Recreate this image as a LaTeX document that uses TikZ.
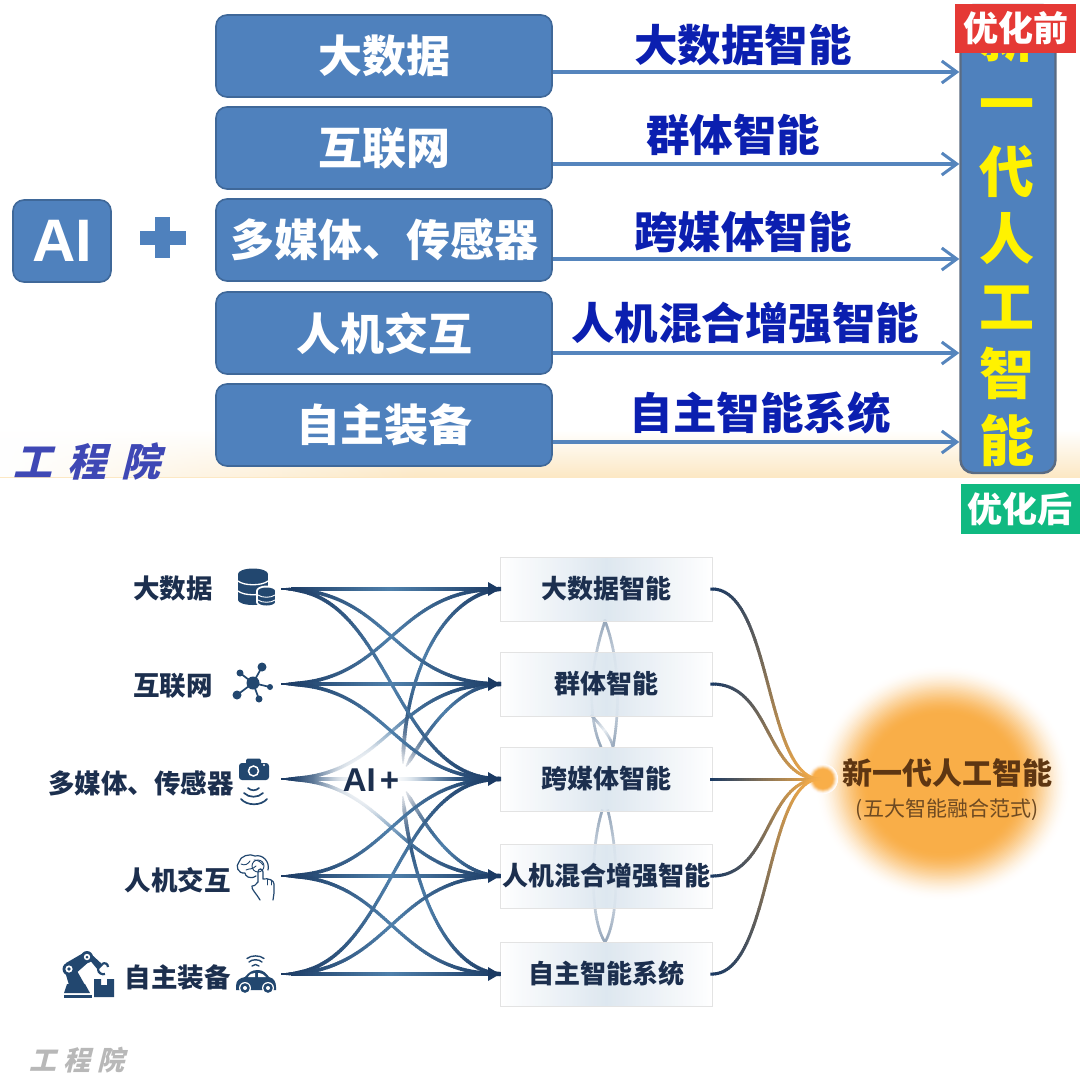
\documentclass[tikz,border=0pt]{standalone}
\usepackage{fontspec}
\setmainfont{Noto Sans CJK SC}
\newfontfamily\latinbold{Liberation Sans}
\usetikzlibrary{arrows.meta,calc,decorations.markings,fadings,shadings}
\definecolor{navy}{HTML}{1B3A63}
\definecolor{steel}{HTML}{4F80AB}
\definecolor{inkt}{HTML}{1C2F4E}
\definecolor{icon}{HTML}{22476F}
\definecolor{boxblue}{HTML}{4F81BD}
\definecolor{boxedge}{HTML}{3F6899}
\definecolor{coledge}{HTML}{5A6B82}
\definecolor{arrblue}{HTML}{5585BD}
\definecolor{lblblue}{HTML}{0B1FB0}
\definecolor{orng}{HTML}{F9AE48}
\definecolor{paleA}{HTML}{95A6BA}
\definecolor{paleB}{HTML}{E9EEF3}
\definecolor{brownA}{HTML}{5E3612}
\definecolor{brownB}{HTML}{6E4A22}
\definecolor{cream}{HTML}{FCE8C4}
\definecolor{boxmid}{HTML}{D9E4EE}
\definecolor{tagred}{HTML}{E53935}
\definecolor{taggreen}{HTML}{10B981}
\definecolor{wmblue}{HTML}{3F48B5}
\tikzfading[name=softdisc,inner color=transparent!0,outer color=transparent!100]
\tikzfading[name=leftwhite,left color=transparent!0,right color=transparent!100]
\newcommand\flowmark{%
  \pgfmathsetmacro\pp{\pgfkeysvalueof{/pgf/decoration/mark info/distance from start}/\pgfdecoratedpathlength}%
  \pgfmathsetmacro\mm{\flowfn}%
  \pgfmathsetmacro\ww{\flowwd}%
  \colorlet{fc}{\colB!\mm!\colA}%
  \draw[fc,line width=\ww pt,line cap=butt] (-1.6pt,0pt)--(1.6pt,0pt);}
\tikzset{
  x=1pt,y=-1pt,
  flowbase/.style={decoration={markings,mark=between positions 0 and 1 step 2.4pt with {\flowmark}},postaction={decorate}},
  flowsym/.style={/utils/exec={\def\colA{navy}\def\colB{steel}\def\flowfn{100*(1-abs(2*\pp-1))}\def\flowwd{(3.1+1.0*(2*\pp-1)^2)*min(1,0.35+\pp*12)}},flowbase},
  flowout/.style={/utils/exec={\def\colA{navy}\def\colB{orng}\def\flowfn{100*\pp}\def\flowwd{3}},flowbase},
  flowpale/.style={/utils/exec={\def\colA{paleA}\def\colB{paleB}\def\flowfn{100*(1-abs(2*\pp-1))}\def\flowwd{2.6}},flowbase},
  oldbox/.style={draw=boxedge,line width=1.6pt,fill=boxblue,rounded corners=11pt,text=white,inner sep=0pt,font=\fontsize{44}{46}\bfseries\selectfont},
  oldlabel/.style={text=lblblue,inner sep=0pt,font=\fontsize{43.5}{46}\bfseries\selectfont},
  oldarrow/.style={draw=arrblue,line width=3.4pt,-{Straight Barb[length=15pt,width=22pt,line width=3pt]}},
  yel/.style={text=yellow,inner sep=0pt,anchor=base,font=\fontsize{55}{58}\bfseries\selectfont},
  srctxt/.style={text=inkt,inner sep=0pt,font=\fontsize{26.5}{30}\bfseries\selectfont},
  tgtbox/.style={draw=black!11,line width=0.9pt,left color=white,right color=white,middle color=boxmid,fill opacity=.88,text opacity=1,
     minimum width=212pt,minimum height=64pt,inner sep=0pt,outer sep=0pt,text=inkt,font=\fontsize{26}{30}\bfseries\selectfont},
  tagbox/.style={text=white,inner sep=0pt,font=\fontsize{35}{38}\bfseries\selectfont},
  ic/.style={fill=icon,draw=none},
  icl/.style={draw=icon,line width=1.2pt,line cap=round,line join=round,fill=none},
  wmark/.style={inner sep=0pt,xslant=.25,font=\fontsize{#1}{#1}\bfseries\selectfont},
}
\newcommand\flowcurve[3]{\path[#1] (#2) .. controls ($(#2)+(108,0)$) and ($(#3)+(-108,0)$) .. (#3);}
\newcommand\outcurve[2]{\path[flowout] (#1) .. controls ($(#1)+(60,0)$) and ($(#2)+(-55,0)$) .. (#2);}
\newcommand\softblob[5]{% cx cy rx ry plateau
  \foreach \k in {0,...,36}{%
    \pgfmathsetmacro\f{1-\k/36*(1-#5)}%
    \pgfmathsetmacro\q{\k/36}%
    \pgfmathsetmacro\pc{100*\q*\q*(3-2*\q)}%
    \fill[orng!\pc!white] (#1,#2) ellipse [x radius={#3*\f},y radius={#4*\f}];}}
\begin{document}
\begin{tikzpicture}
\useasboundingbox (0,0) rectangle (1080,1080);
\fill[white] (0,0) rectangle (1080,1080);
% --- top panel background
\shade[top color=white,bottom color=cream] (0,430) rectangle (1080,477);
\fill[white,path fading=leftwhite] (0,430) rectangle (420,477);
% --- top panel nodes
\node[oldbox,minimum width=98pt,minimum height=82pt] (ai) at (62,241) {\latinbold\fontsize{60}{62}\bfseries\selectfont AI};
\fill[boxblue] (155,217) rectangle (170,258);
\fill[boxblue] (140,231) rectangle (186,245);
\node[oldbox,minimum width=336pt,minimum height=82pt] (a1) at (384,56) {大数据};
\node[oldbox,minimum width=336pt,minimum height=82pt] (a2) at (384,148) {互联网};
\node[oldbox,minimum width=336pt,minimum height=82pt] (a3) at (384,240) {多媒体、传感器};
\node[oldbox,minimum width=336pt,minimum height=82pt] (a4) at (384,333) {人机交互};
\node[oldbox,minimum width=336pt,minimum height=82pt] (a5) at (384,425) {自主装备};
\node[draw=coledge,line width=2.4pt,fill=boxblue,rounded corners=13pt,minimum width=95pt,minimum height=468pt,inner sep=0pt] (col) at (1008,239) {};
\foreach \ty/\tc in {57/新,124/一,192/代,259/人,327/工,394/智,461/能}{\node[yel] at (1007,\ty) {\tc};}
\draw[oldarrow] (a1.east|-0,72) -- (col.west|-0,72);
\draw[oldarrow] (a2.east|-0,164) -- (col.west|-0,164);
\draw[oldarrow] (a3.east|-0,259) -- (col.west|-0,259);
\draw[oldarrow] (a4.east|-0,353) -- (col.west|-0,353);
\draw[oldarrow] (a5.east|-0,442) -- (col.west|-0,442);
\node[oldlabel] at (743,45) {大数据智能};
\node[oldlabel] at (733,135) {群体智能};
\node[oldlabel] at (743,232) {跨媒体智能};
\node[oldlabel] at (745,323) {人机混合增强智能};
\node[oldlabel] at (760,413) {自主智能系统};
\node[wmark=39,text=wmblue] at (91,461) {工\hspace{15pt}程\hspace{15pt}院};
% --- tags
\fill[tagred] (955,4) rectangle (1076,53);
\node[tagbox] at (1015.5,28) {优化前};
\fill[taggreen] (961,484) rectangle (1080,534);
\node[tagbox] at (1020,509) {优化后};
% --- lower panel: glow
\softblob{943}{783}{128}{118}{.58}
\softblob{823}{779}{15}{15}{.6}
% --- lens-shaped pale links behind the boxes
\coordinate (t1b) at (605,621); \coordinate (t3a) at (601,747); \coordinate (t3b) at (613,747);
\coordinate (t2b) at (592,716); \coordinate (t3c) at (602,811); \coordinate (t3d) at (608,811); \coordinate (t5a) at (605,942);
\path[flowpale] (t1b) .. controls (592,660) and (585,710) .. (t3a);
\path[flowpale] (t1b) .. controls (620,660) and (620,710) .. (t3b);
\path[flowpale] (t2b) .. controls (600,725) and (610,735) .. (t3b);
\path[flowpale] (t3c) .. controls (590,850) and (590,920) .. (t5a);
\path[flowpale] (t3d) .. controls (620,860) and (618,920) .. (t5a);
% --- intelligence boxes
\node[tgtbox] (t1) at (606,589) {\raisebox{-2pt}{大数据智能}};
\node[tgtbox] (t2) at (606,684) {\raisebox{-2pt}{群体智能}};
\node[tgtbox] (t3) at (606,779) {\raisebox{-2pt}{跨媒体智能}};
\node[tgtbox] (t4) at (606,876) {\raisebox{-3pt}{人机混合增强智能}};
\node[tgtbox] (t5) at (606,974) {\raisebox{-3pt}{自主智能系统}};
% --- source anchors and labels
\coordinate (s1) at (283,589); \coordinate (s2) at (283,684); \coordinate (s3) at (283,779); \coordinate (s4) at (283,876); \coordinate (s5) at (283,974);
\node[srctxt,anchor=east] (l1) at (213,588) {大数据};
\node[srctxt,anchor=east] (l2) at (213,686) {互联网};
\node[srctxt,anchor=east] (l3) at (234,783) {多媒体、传感器};
\node[srctxt,anchor=east] (l4) at (231,880) {人机交互};
\node[srctxt,anchor=east] (l5) at (231,977) {自主装备};
% --- flows from the AI+ hub source (fade under the white glow)
\flowcurve{flowsym}{s3}{t2.west}
\flowcurve{flowsym}{s3}{t4.west}
\flowcurve{flowsym}{s3}{t3.west}
\coordinate (u1) at (403,762); \coordinate (u2) at (407,765); \coordinate (d1) at (403,798); \coordinate (d2) at (407,793);
\path[flowsym] (u1) .. controls (405,670) and (445,595) .. (t1.west);
\path[flowsym] (u2) .. controls (425,735) and (455,685) .. (t2.west);
\path[flowsym] (d1) .. controls (410,870) and (440,970) .. (t5.west);
\path[flowsym] (d2) .. controls (425,825) and (455,875) .. (t4.west);
\fill[white,path fading=softdisc] (375,779) ellipse [x radius=82,y radius=72];
\fill[white,path fading=softdisc] (375,779) ellipse [x radius=62,y radius=52];
\fill[white,path fading=softdisc] (375,779) ellipse [x radius=48,y radius=38];
\flowcurve{flowsym}{s1}{t1.west}
\flowcurve{flowsym}{s1}{t2.west}
\flowcurve{flowsym}{s1}{t3.west}
\flowcurve{flowsym}{s2}{t1.west}
\flowcurve{flowsym}{s2}{t2.west}
\flowcurve{flowsym}{s2}{t3.west}
\flowcurve{flowsym}{s4}{t3.west}
\flowcurve{flowsym}{s4}{t4.west}
\flowcurve{flowsym}{s4}{t5.west}
\flowcurve{flowsym}{s5}{t3.west}
\flowcurve{flowsym}{s5}{t4.west}
\flowcurve{flowsym}{s5}{t5.west}
\foreach \tg in {t1,t2,t3,t4,t5}{\fill[navy] (\tg.west) -- ++(-12,-7) -- ++(0,14) -- cycle;}
\node[text=inkt,inner sep=0pt,font=\latinbold\fontsize{33}{35}\bfseries\selectfont] (aiplus) at (371,780) {AI\hspace{4pt}+};
% --- outputs to the hub
\coordinate (hub) at (820,779);
\outcurve{t1.east}{hub}
\outcurve{t2.east}{hub}
\outcurve{t3.east}{hub}
\outcurve{t4.east}{hub}
\outcurve{t5.east}{hub}
\node[text=brownA,inner sep=0pt,font=\fontsize{30}{34}\bfseries\selectfont] (newai) at (947,773) {新一代人工智能};
\node[text=brownB,inner sep=0pt,font=\fontsize{21}{24}\selectfont] at (947,810) {(五大智能融合范式)};
\node[wmark=27,text=black!28] at (80,1060) {工\hspace{7pt}程\hspace{7pt}院};
% --- icon: database
\fill[ic] (238,574) rectangle (268,600);
\fill[ic] (253,574) ellipse [x radius=15,y radius=5.5];
\fill[ic] (253,600) ellipse [x radius=15,y radius=5];
\draw[white,line width=1.3pt] (238,581) .. controls (244,586) and (262,586) .. (268,581);
\draw[white,line width=1.3pt] (238,591) .. controls (244,596) and (262,596) .. (268,591);
\fill[white] (266.5,591) ellipse [x radius=10.5,y radius=5.5];
\fill[white] (256,591) rectangle (277,602);
\fill[white] (266.5,602) ellipse [x radius=10.5,y radius=5.5];
\fill[ic] (258,591) rectangle (275,602);
\fill[ic] (266.5,591) ellipse [x radius=8.5,y radius=3.5];
\fill[ic] (266.5,602) ellipse [x radius=8.5,y radius=3.5];
\draw[white,line width=.9pt] (258,595) .. controls (262,598) and (271,598) .. (275,595);
\draw[white,line width=.9pt] (258,600) .. controls (262,603) and (271,603) .. (275,600);
% --- icon: network
\foreach \nx/\ny/\nr in {262/667/4.5,240/673/3.5,270/687/3,259/699/3.5,237/695/4.5}{
  \draw[icon,line width=1.7pt] (253,683) -- (\nx,\ny);
  \fill[ic] (\nx,\ny) circle (\nr);}
\fill[ic] (253,683) circle (6.5);
% --- icon: camera and sensor waves
\fill[ic,rounded corners=3pt] (239,763) rectangle (269,780);
\fill[ic,rounded corners=1.5pt] (246,758.5) rectangle (261,766);
\draw[white,line width=1.5pt] (253.5,771) circle (5);
\fill[white] (264,765) circle (1.2);
\draw[icl,line width=1.7pt] (248,788) .. controls (251,791) and (256,791) .. (259,788);
\draw[icl,line width=1.7pt] (244,793) .. controls (249,798) and (258,798) .. (263,793);
\draw[icl,line width=1.7pt] (241,799) .. controls (247,806) and (261,806) .. (267,799);
% --- icon: brain and hand
\draw[icl] (256,876) .. controls (250,880) and (245,876) .. (245,873) .. controls (238,874) and (235,866) .. (239,862)
  .. controls (240,856) and (250,853) .. (255,856) .. controls (263,854) and (270,862) .. (268,870);
\draw[icl,line width=.9pt] (241,864) .. controls (245,866) and (248,864) .. (250,861);
\draw[icl,line width=.9pt] (246,870) .. controls (250,868) and (252,870) .. (256,866);
\draw[icl,line width=.9pt] (254,860) .. controls (258,860) and (261,862) .. (263,865);
\draw[icl,line width=.9pt] (258,866) circle (6);
\draw[icl] (258,882) -- (258,872) .. controls (258,868) and (263,868) .. (263,872) -- (263,879)
  .. controls (268,878) and (274,880) .. (274,884) -- (274,893) -- (273,900);
\draw[icl] (258,882) .. controls (255,885) and (254,887) .. (252,886) .. controls (251,889) and (256,893) .. (260,900);
\draw[icl,line width=.9pt] (267,879) -- (267,885);
\draw[icl,line width=.9pt] (271,880) -- (271,885);
% --- icon: robot arm and parcel
\fill[ic] (64,995) rectangle (92,998);
\fill[ic] (67,984) -- (85,984) -- (90,993) -- (64,993) -- cycle;
\fill[ic] (64,968) -- (72,962) -- (85,985) -- (69,985) -- cycle;
\fill[ic] (66,963) -- (85,952) -- (91,960) -- (74,975) -- cycle;
\fill[ic] (69,969) circle (6.5);
\fill[ic] (87,957) circle (6);
\fill[ic] (84,953) -- (90,953) -- (103,965) -- (98,970) -- cycle;
\fill[white] (69,969) circle (3.6); \fill[ic] (69,969) circle (1.8);
\fill[white] (87,957) circle (3.2); \fill[ic] (87,957) circle (1.5);
\draw[icon,line width=2.2pt] (102,964) .. controls (105,962) and (108,964) .. (108,967);
\draw[icon,line width=2.2pt] (98,969) .. controls (98,973) and (102,975) .. (105,974);
\fill[ic] (94,979) -- (101,979) -- (101,985) -- (107,985) -- (107,979) -- (114,979) -- (114,997) -- (94,997) -- cycle;
% --- icon: connected car
\fill[ic] (236,986) .. controls (236,980) and (240,978) .. (245,977) .. controls (249,972) and (252,970) .. (258,970)
  .. controls (263,970) and (266,973) .. (269,977) .. controls (274,978) and (276,982) .. (276,987) -- (276,990) -- (236,990) -- cycle;
\fill[white] (248,977) .. controls (250,974) and (252,973) .. (255,973) -- (255,977) -- cycle;
\fill[white] (258,973) .. controls (262,973) and (264,975) .. (266,977) -- (258,977) -- cycle;
\foreach \wx in {245,268}{\fill[white] (\wx,988) circle (6);\fill[ic] (\wx,988) circle (4.8);\fill[white] (\wx,988) circle (2);}
\draw[icl,line width=1.4pt] (252,966) .. controls (254,964) and (257,964) .. (259,966);
\draw[icl,line width=1.4pt] (249,962) .. controls (252,959) and (259,959) .. (262,962);
\draw[icl,line width=1.4pt] (247,958.5) .. controls (251,955) and (260,955) .. (264,958.5);
\end{tikzpicture}
\end{document}
